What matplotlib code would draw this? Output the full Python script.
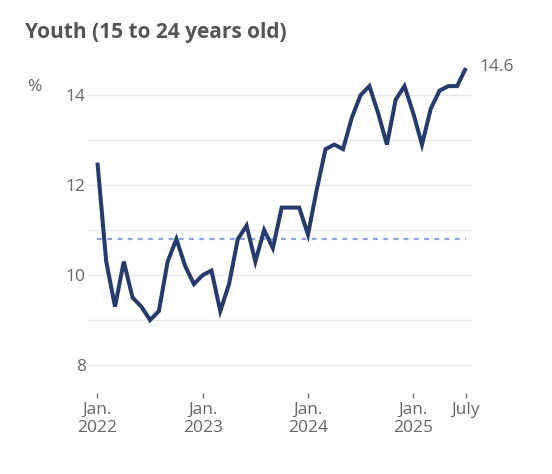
import matplotlib.pyplot as plt

# monthly youth unemployment rate, Jan 2022 .. July 2025
RATES = [12.5, 10.3, 9.3, 10.3, 9.5, 9.3, 9.0, 9.2, 10.3, 10.8, 10.2, 9.8,
         10.0, 10.1, 9.2, 9.8, 10.8, 11.1, 10.3, 11.0, 10.6, 11.5, 11.5, 11.5,
         10.9, 11.9, 12.8, 12.9, 12.8, 13.5, 14.0, 14.2, 13.6, 12.9, 13.9, 14.2,
         13.6, 12.9, 13.7, 14.1, 14.2, 14.2, 14.6]
AVERAGE = 10.8
TICK_MONTHS = [0, 12, 24, 36, 42]
TICK_LABELS = ["Jan.\n2022", "Jan.\n2023", "Jan.\n2024", "Jan.\n2025", "July"]
Y_LABELS = [8, 10, 12, 14]
Y_GRID = [8, 9, 10, 11, 12, 13, 14]

LINE_COLOR = "#263b6d"
AVG_COLOR = "#8ba6de"
TEXT_COLOR = "#666666"

plt.rcParams['font.family'] = ['Open Sans', 'DejaVu Sans']

fig = plt.figure(figsize=(5.52, 4.74), dpi=100)
ax = fig.add_axes([0.1594, 0.1709, 0.6957, 0.7025])

months = list(range(len(RATES)))
ax.plot(months, [AVERAGE] * len(RATES), color=AVG_COLOR, lw=1.6,
        linestyle=(0, (2.2, 2.4)), zorder=2)
ax.plot(months, RATES, color=LINE_COLOR, lw=2.9, solid_joinstyle='miter',
        solid_capstyle='butt', zorder=3)

ax.annotate(f"{RATES[-1]}", xy=(months[-1], RATES[-1]), xytext=(10, 1),
            textcoords='offset points', va='center', ha='left',
            fontsize=12.5, color=TEXT_COLOR)

ax.set_xlim(-1.08, 42.7)
ax.set_ylim(7.38, 14.78)

ax.set_yticks(Y_LABELS)
ax.set_yticks([v for v in Y_GRID if v not in Y_LABELS], minor=True)
ax.grid(axis='y', which='both', color='#e8e8e8', lw=1)
ax.tick_params(axis='y', which='both', length=0, pad=1.5, labelsize=12.5,
               labelcolor=TEXT_COLOR)

ax.set_xticks(TICK_MONTHS)
ax.set_xticklabels(TICK_LABELS)
ax.tick_params(axis='x', length=3.5, width=1, color='#777777', pad=3,
               labelsize=12.5, labelcolor=TEXT_COLOR)

for side in ax.spines.values():
    side.set_visible(False)
ax.set_axisbelow(True)

fig.text(0.045, 0.932, "Youth (15 to 24 years old)", fontsize=15,
         fontweight='bold', color='#555555', va='center')
fig.text(0.049, 0.8165, "%", fontsize=12.5, color=TEXT_COLOR, va='center')

fig.savefig("out.png", dpi=100)
